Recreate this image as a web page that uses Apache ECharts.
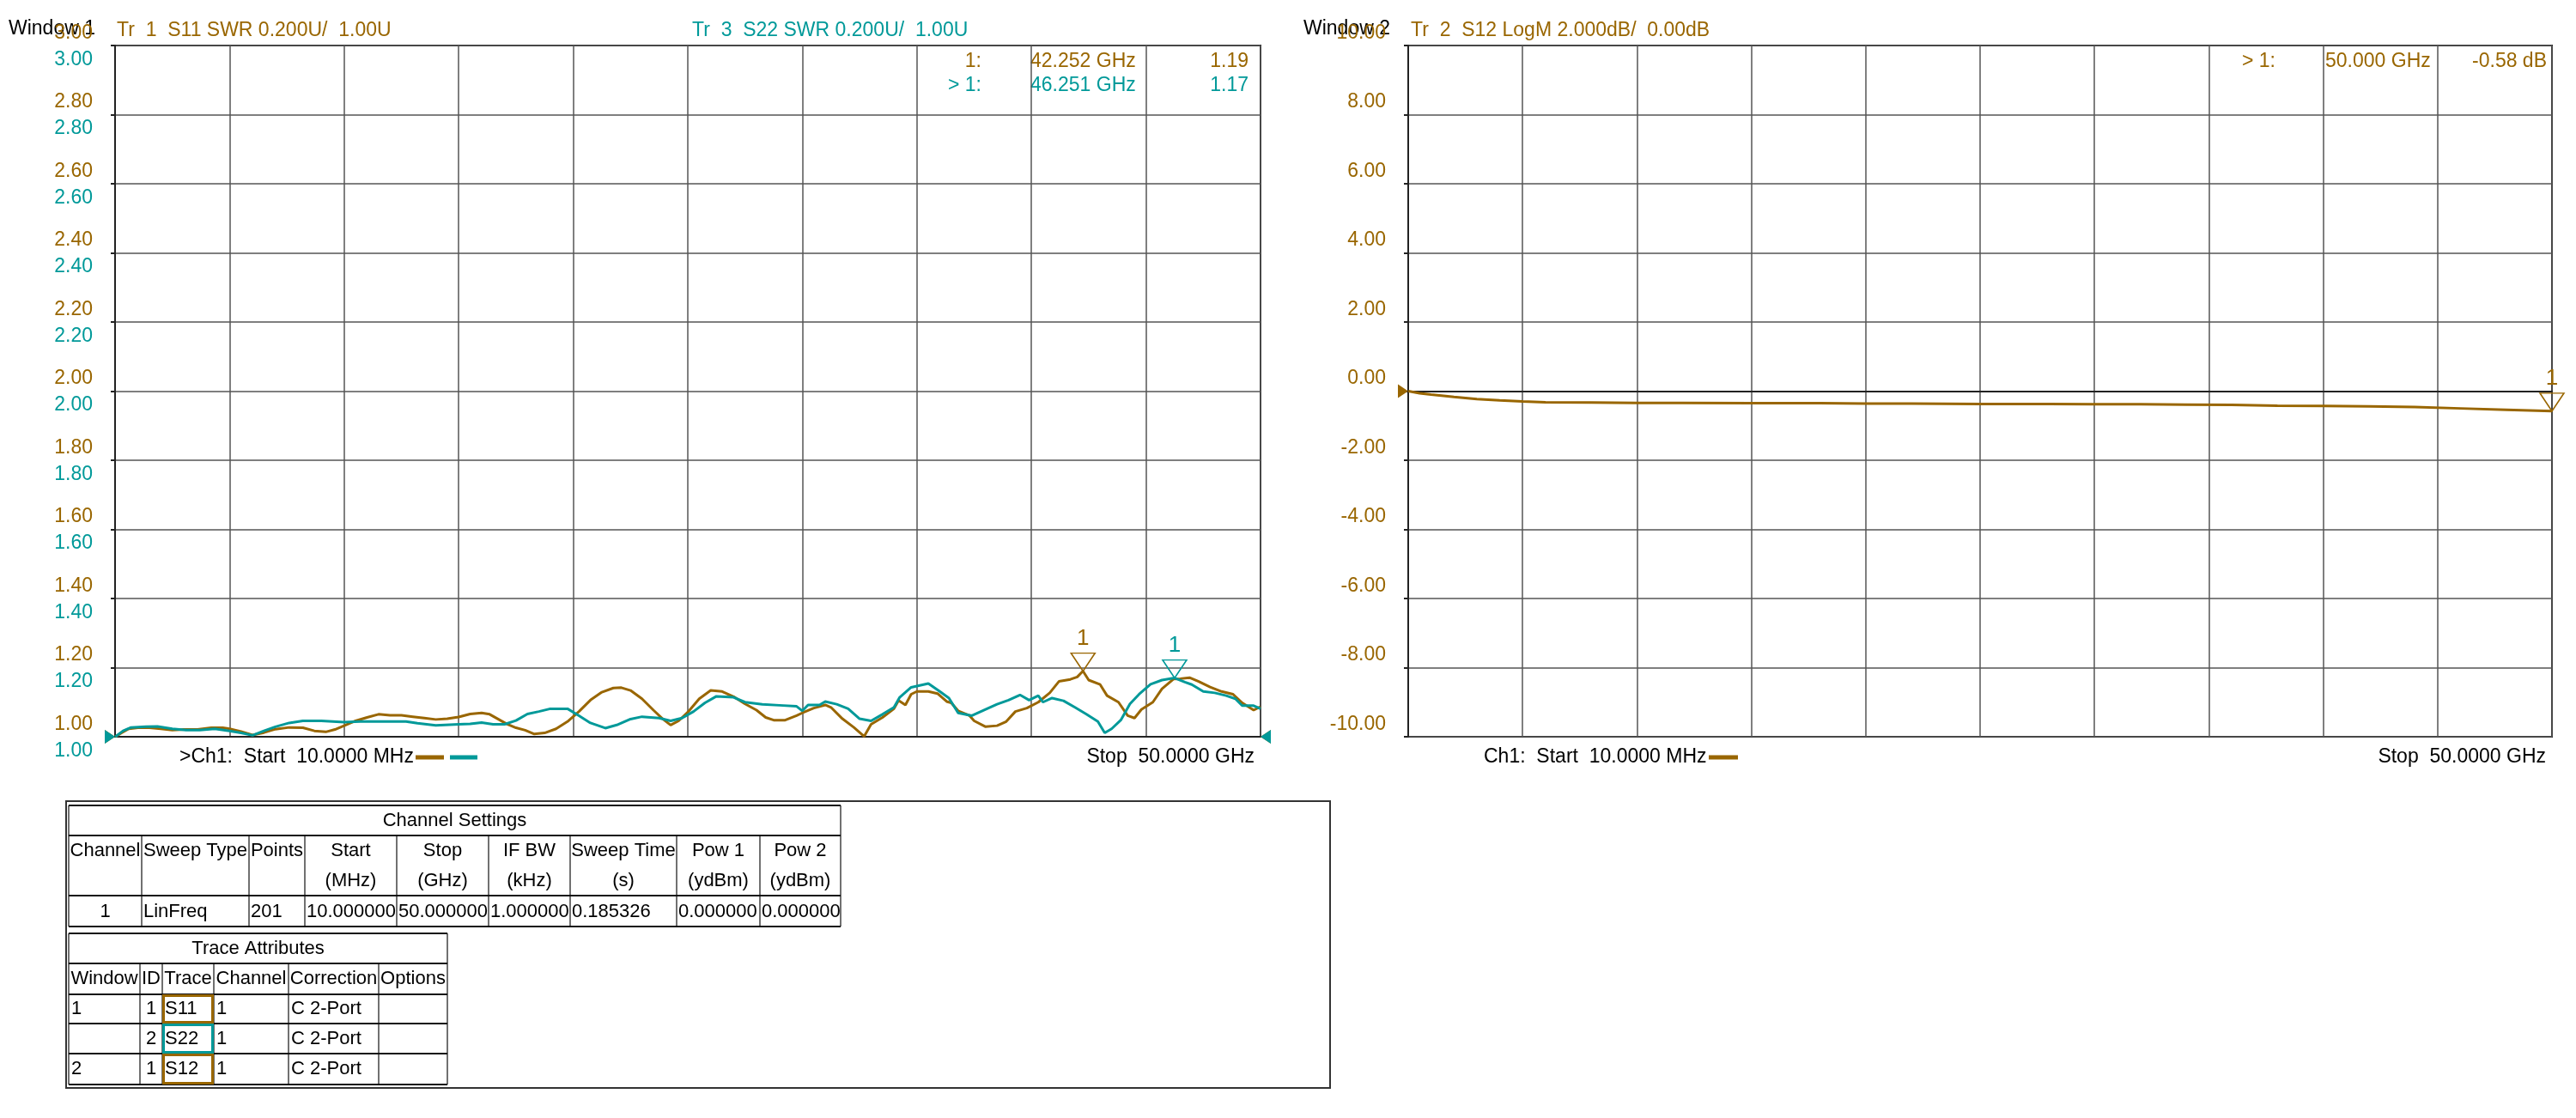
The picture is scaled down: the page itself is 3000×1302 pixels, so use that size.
<!DOCTYPE html>
<html><head><meta charset="utf-8">
<script src="https://cdn.jsdelivr.net/npm/echarts@6/dist/echarts.min.js"></script>
<style>html,body{margin:0;padding:0;background:#fff}#c{width:3000px;height:1302px}</style>
</head><body><div id="c"></div>
<script>
// ---------- data ----------
const s11Freq = [0.01,0.3,0.6,1.0,1.5,2.0,2.5,3.0,3.6,4.2,4.7,5.0,5.5,6.0,6.5,7.0,7.6,8.2,8.7,9.2,9.6,10.0,10.5,11.0,11.5,12.0,12.5,13.0,13.5,14.0,14.5,15.0,15.5,16.0,16.35,16.7,17.1,17.5,17.9,18.3,18.75,19.25,19.75,20.25,20.75,21.25,21.75,22.1,22.5,23.0,23.5,23.9,24.25,24.6,25.0,25.5,26.0,26.5,27.0,27.5,28.0,28.4,28.75,29.25,29.75,30.0,30.5,31.0,31.25,31.75,32.25,32.7,33.0,33.5,34.0,34.2,34.5,34.75,35.0,35.5,35.9,36.3,36.5,36.8,37.3,37.5,38.0,38.5,38.9,39.3,39.8,40.3,40.8,41.2,41.7,42.0,42.25,42.5,43.0,43.3,43.8,44.2,44.5,44.8,45.3,45.7,46.2,46.5,46.9,47.3,47.8,48.3,48.8,49.2,49.7,50.0];
const s11Swr = [1.000,1.012,1.023,1.026,1.026,1.023,1.019,1.021,1.021,1.026,1.026,1.023,1.015,1.005,1.012,1.022,1.027,1.026,1.017,1.014,1.021,1.032,1.046,1.056,1.065,1.062,1.062,1.058,1.054,1.050,1.052,1.057,1.066,1.069,1.065,1.052,1.037,1.026,1.019,1.008,1.011,1.023,1.044,1.073,1.106,1.129,1.141,1.142,1.134,1.110,1.077,1.052,1.034,1.046,1.071,1.110,1.134,1.131,1.116,1.095,1.077,1.056,1.048,1.048,1.061,1.069,1.083,1.092,1.085,1.052,1.027,1.001,1.036,1.056,1.081,1.105,1.092,1.123,1.131,1.131,1.125,1.102,1.098,1.075,1.061,1.046,1.029,1.032,1.044,1.073,1.083,1.100,1.127,1.160,1.166,1.173,1.190,1.164,1.151,1.119,1.100,1.061,1.054,1.079,1.100,1.139,1.167,1.168,1.171,1.160,1.144,1.131,1.123,1.098,1.077,1.087];
const s22Freq = [0.01,0.35,0.7,1.35,1.85,2.5,3.1,3.7,4.35,5.0,5.5,6.0,6.5,7.0,7.6,8.2,9.0,10.0,10.7,11.7,12.7,13.2,14.0,15.0,15.5,16.0,16.5,17.0,17.5,18.0,18.5,19.0,19.75,20.25,20.75,21.4,21.9,22.5,23.0,23.75,24.25,24.75,25.25,25.75,26.25,27.0,27.5,28.25,29.0,29.75,30.0,30.25,30.75,31.0,31.5,32.0,32.5,33.0,33.5,34.0,34.25,34.75,35.5,36.0,36.4,36.8,37.4,38.0,38.5,39.0,39.5,39.9,40.3,40.5,40.9,41.4,41.9,42.4,42.9,43.2,43.5,43.9,44.3,44.7,45.2,45.7,46.25,46.7,47.0,47.5,48.0,48.5,48.9,49.2,49.7,50.0];
const s22Swr = [1.000,1.017,1.027,1.029,1.030,1.023,1.019,1.019,1.023,1.017,1.011,1.004,1.017,1.029,1.040,1.046,1.046,1.042,1.044,1.044,1.044,1.039,1.033,1.036,1.037,1.041,1.036,1.036,1.047,1.066,1.073,1.081,1.081,1.061,1.040,1.025,1.034,1.051,1.058,1.054,1.046,1.054,1.073,1.098,1.117,1.114,1.100,1.094,1.091,1.088,1.075,1.092,1.092,1.102,1.094,1.081,1.052,1.046,1.065,1.085,1.114,1.143,1.154,1.131,1.112,1.069,1.061,1.079,1.094,1.106,1.121,1.106,1.119,1.100,1.112,1.104,1.085,1.065,1.044,1.011,1.023,1.048,1.095,1.123,1.152,1.164,1.170,1.158,1.151,1.131,1.127,1.119,1.110,1.090,1.090,1.081];
const s12Freq = [0.01,0.5,1,2,3,4,5,6,8,10,12,15,18,20,22,25,28,30,32,34,36,38,40,42,44,46,48,50];
const s12Db = [0.00,-0.06,-0.10,-0.17,-0.23,-0.27,-0.30,-0.32,-0.33,-0.34,-0.34,-0.35,-0.35,-0.36,-0.36,-0.37,-0.37,-0.38,-0.38,-0.39,-0.40,-0.42,-0.43,-0.44,-0.46,-0.50,-0.54,-0.58];

const s11Marker = [42.252, 1.19];
const s22Marker = [46.251, 1.17];
const s12Marker = [50.0, -0.58];

const titleW1a = 'Tr  1  S11 SWR 0.200U/  1.00U';
const titleW1b = 'Tr  3  S22 SWR 0.200U/  1.00U';
const titleW2 = 'Tr  2  S12 LogM 2.000dB/  0.00dB';
const markW1 = [['1:', '42.252 GHz', '1.19'], ['> 1:', '46.251 GHz', '1.17']];
const markW2 = [['> 1:', '50.000 GHz', '-0.58 dB']];

const chTitle = 'Channel Settings';
const chHead1 = ['Channel','Sweep Type','Points','Start','Stop','IF BW','Sweep Time','Pow 1','Pow 2'];
const chHead2 = ['','','','(MHz)','(GHz)','(kHz)','(s)','(ydBm)','(ydBm)'];
const chRow = ['1','LinFreq','201','10.000000','50.000000','1.000000','0.185326','0.000000','0.000000'];
const trTitle = 'Trace Attributes';
const trHead = ['Window','ID','Trace','Channel','Correction','Options'];
const trRows = [['1','1','S11','1','C 2-Port',''],['','2','S22','1','C 2-Port',''],['2','1','S12','1','C 2-Port','']];

// ---------- style ----------
const BROWN = '#996600', TEAL = '#009999', FONT = '"Liberation Sans", Arial, sans-serif';
const G1 = {left:134, top:53, width:1334, height:805};
const G2 = {left:1640, top:53, width:1332, height:805};

function pairs(xs, ys){ return xs.map((x,i)=>[x, ys[i]]); }
function txt(x, y, s, color, align, size){
  return {type:'text', x:x, y:y, silent:true, style:{text:s, fill:color||'#000', font:(size||23)+'px '+FONT, align:align||'left', verticalAlign:'middle'}};
}
function ln(x1,y1,x2,y2,color,w){
  return {type:'line', silent:true, shape:{x1:x1,y1:y1,x2:x2,y2:y2}, style:{stroke:color||'#000', lineWidth:w||1}};
}

const gfx = [];
// titles
gfx.push(txt(10, 34, 'Window 1', '#000'));
gfx.push(txt(G1.left+2, 36, titleW1a, BROWN));
gfx.push(txt(806, 36, titleW1b, TEAL));
gfx.push(txt(1518, 34, 'Window 2', '#000'));
gfx.push(txt(G2.left+3, 36, titleW2, BROWN));
// marker readouts
const mColors = [BROWN, TEAL];
markW1.forEach((r,i)=>{
  const y = 72 + i*28;
  gfx.push(txt(1143, y, r[0], mColors[i], 'right'));
  gfx.push(txt(1200, y, r[1], mColors[i], 'left'));
  gfx.push(txt(1454, y, r[2], mColors[i], 'right'));
});
markW2.forEach((r,i)=>{
  const y = 72;
  gfx.push(txt(2650, y, r[0], BROWN, 'right'));
  gfx.push(txt(2708, y, r[1], BROWN, 'left'));
  gfx.push(txt(2966, y, r[2], BROWN, 'right'));
});
// footers
gfx.push(txt(209, 882, '>Ch1:  Start  10.0000 MHz', '#000'));
gfx.push(ln(484, 882, 517, 882, BROWN, 5));
gfx.push(ln(524, 882, 556, 882, TEAL, 5));
gfx.push(txt(1461, 882, 'Stop  50.0000 GHz', '#000', 'right'));
gfx.push(txt(1728, 882, 'Ch1:  Start  10.0000 MHz', '#000'));
gfx.push(ln(1990, 882, 2024, 882, BROWN, 5));
gfx.push(txt(2965, 882, 'Stop  50.0000 GHz', '#000', 'right'));

// tables
gfx.push({type:'rect', silent:true, shape:{x:77, y:933, width:1472, height:334}, style:{fill:'none', stroke:'#333', lineWidth:2}});
const chCols = [80,165,290,355,462,569,664,788,885,979];
const chRowsY = [938, 973, 1043, 1079];
chRowsY.forEach(y=>gfx.push(ln(chCols[0], y, chCols[chCols.length-1], y, '#111', 2)));
chCols.forEach((x,i)=>{
  const y0 = (i===0 || i===chCols.length-1) ? chRowsY[0] : chRowsY[1];
  gfx.push(ln(x, y0, x, chRowsY[3], '#111', 1.2));
});
gfx.push(txt((chCols[0]+chCols[9])/2, 956, chTitle, '#000', 'center', 22));
chHead1.forEach((h,i)=>{
  const cx = (chCols[i]+chCols[i+1])/2;
  gfx.push(txt(cx, 991, h, '#000', 'center', 22));
  if (chHead2[i]) gfx.push(txt(cx, 1026, chHead2[i], '#000', 'center', 22));
  if (i===0) gfx.push(txt(cx, 1062, chRow[i], '#000', 'center', 22));
  else gfx.push(txt(chCols[i]+2, 1062, chRow[i], '#000', 'left', 22));
});
const trCols = [80,163,189,249,336,441,521];
const trRowsY = [1087,1122,1158,1192,1227,1263];
trRowsY.forEach(y=>gfx.push(ln(trCols[0], y, trCols[trCols.length-1], y, '#111', 2)));
trCols.forEach((x,i)=>{
  const y0 = (i===0 || i===trCols.length-1) ? trRowsY[0] : trRowsY[1];
  gfx.push(ln(x, y0, x, trRowsY[5], '#111', 1.2));
});
gfx.push(txt((trCols[0]+trCols[6])/2, 1105, trTitle, '#000', 'center', 22));
trHead.forEach((h,i)=>gfx.push(txt((trCols[i]+trCols[i+1])/2, 1140, h, '#000', 'center', 22)));
const traceColors = [BROWN, TEAL, BROWN];
trRows.forEach((r,j)=>{
  const yc = (trRowsY[j+2]+trRowsY[j+3])/2;
  r.forEach((v,i)=>{
    if (!v) return;
    if (i===1) gfx.push(txt((trCols[i]+trCols[i+1])/2, yc, v, '#000', 'center', 22));
    else gfx.push(txt(trCols[i]+3, yc, v, '#000', 'left', 22));
  });
  gfx.push({type:'rect', silent:true, shape:{x:trCols[2]+1.5, y:trRowsY[j+2]+1.5, width:trCols[3]-trCols[2]-3, height:trRowsY[j+3]-trRowsY[j+2]-3}, style:{fill:'none', stroke:traceColors[j], lineWidth:3}});
});

// ---------- chart ----------
const gridLine = {show:true, lineStyle:{color:'#555', width:1.5}};
const axLine = {show:true, lineStyle:{color:'#222', width:2}};
function xAx(gi){ return {gridIndex:gi, type:'value', min:0, max:50, interval:5, axisLine:axLine, axisTick:{show:false}, axisLabel:{show:false}, splitLine:gridLine}; }
function lbl(color, va){
  return {color:color, fontSize:23, fontFamily:FONT, margin:26, verticalAlign:va, padding: va==='bottom'?[0,0,3,0]:[5,0,0,0], formatter:v=>v.toFixed(2)};
}
const tri = (color, dataPoint) => ({
  coord: dataPoint, symbol:'path://M0,0L28,0L14,21Z', symbolSize:[28,21], symbolOffset:[0,-10.5],
  itemStyle:{color:'rgba(255,255,255,0)', borderColor:color, borderWidth:1.5},
  label:{show:true, position:'top', distance:3, formatter:'1', color:color, fontSize:26, fontFamily:FONT}
});
const refR = (color, c) => ({coord:c, symbol:'path://M0,0L12,8L0,16Z', symbolSize:[12,16], symbolOffset:[-6,0], itemStyle:{color:color}, label:{show:false}});
const refL = (color, c) => ({coord:c, symbol:'path://M12,0L0,8L12,16Z', symbolSize:[12,16], symbolOffset:[6,0], itemStyle:{color:color}, label:{show:false}});

const option = {
  animation:false,
  backgroundColor:'#fff',
  textStyle:{fontFamily:FONT},
  grid:[
    Object.assign({show:true, borderColor:'#222', borderWidth:2, containLabel:false}, G1),
    Object.assign({show:true, borderColor:'#222', borderWidth:2, containLabel:false}, G2)
  ],
  xAxis:[xAx(0), xAx(1)],
  yAxis:[
    {gridIndex:0, type:'value', min:1, max:3, interval:0.2, position:'left', offset:0, axisLine:axLine, axisTick:{show:true, length:5, lineStyle:{color:'#222', width:2}}, splitLine:gridLine, axisLabel:lbl(BROWN,'bottom')},
    {gridIndex:0, type:'value', min:1, max:3, interval:0.2, position:'left', offset:0, axisLine:{show:false}, axisTick:{show:false}, splitLine:{show:false}, axisLabel:lbl(TEAL,'top')},
    {gridIndex:1, type:'value', min:-10, max:10, interval:2, position:'left', offset:0, axisLine:axLine, axisTick:{show:true, length:5, lineStyle:{color:'#222', width:2}}, splitLine:gridLine, axisLabel:lbl(BROWN,'bottom')}
  ],
  series:[
    {name:'S11', type:'line', xAxisIndex:0, yAxisIndex:0, data:pairs(s11Freq, s11Swr), symbol:'none', lineStyle:{color:BROWN, width:3}, z:3,
     markPoint:{symbolKeepAspect:false, data:[tri(BROWN, s11Marker), refR(BROWN,[0,1]), refL(BROWN,[50,1])]}},
    {name:'S22', type:'line', xAxisIndex:0, yAxisIndex:1, data:pairs(s22Freq, s22Swr), symbol:'none', lineStyle:{color:TEAL, width:3}, z:4,
     markPoint:{data:[tri(TEAL, s22Marker), refR(TEAL,[0,1]), refL(TEAL,[50,1])]}},
    {name:'S12', type:'line', xAxisIndex:1, yAxisIndex:2, data:pairs(s12Freq, s12Db), symbol:'none', lineStyle:{color:BROWN, width:3}, z:3,
     markPoint:{data:[tri(BROWN, s12Marker), refR(BROWN,[0,0])]}}
  ],
  graphic:gfx
};
const chart = echarts.init(document.getElementById('c'), null, {renderer:'canvas'});
chart.setOption(option);
</script></body></html>
